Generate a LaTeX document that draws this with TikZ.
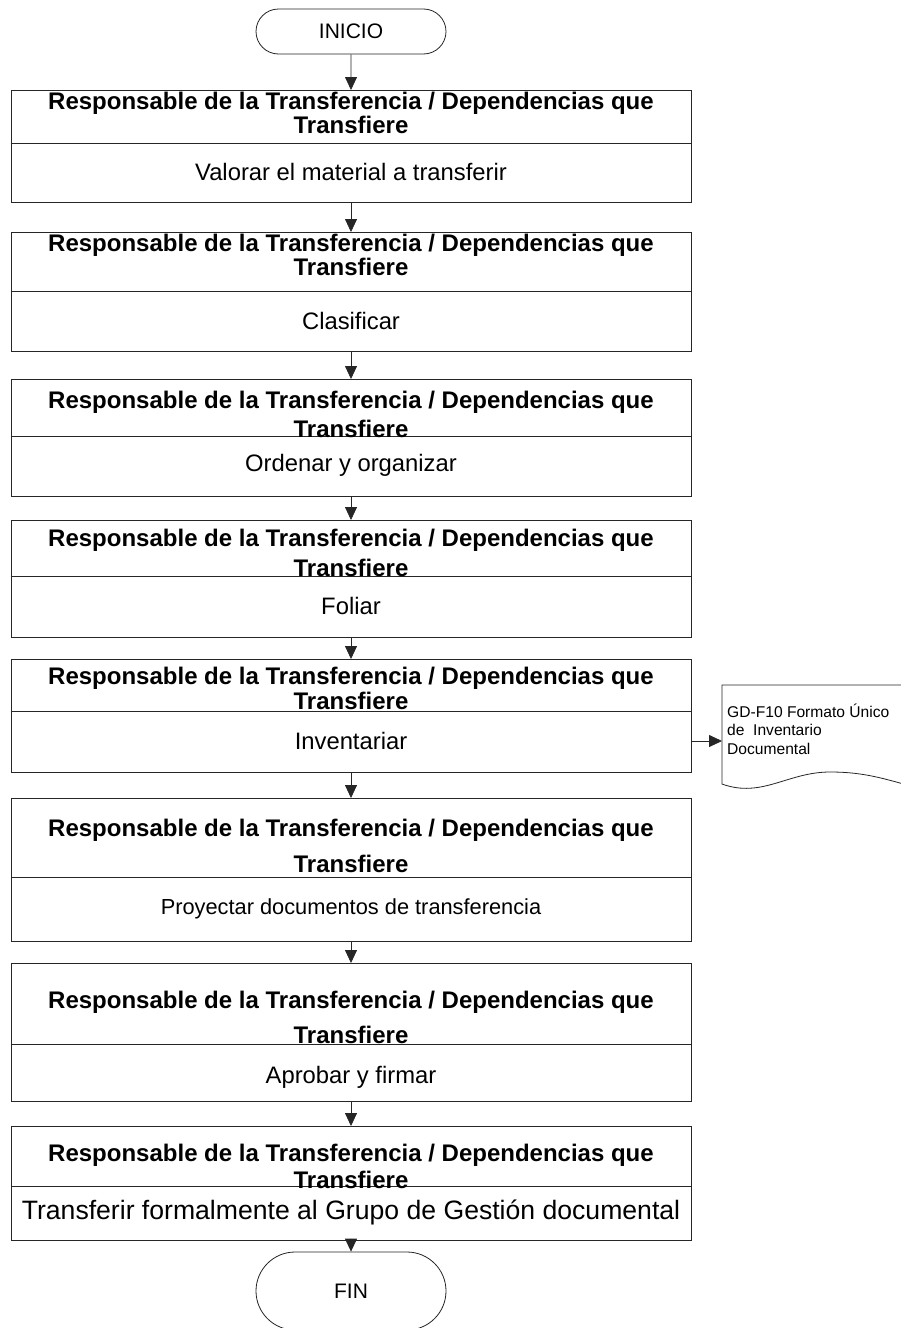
\documentclass[tikz,border=0pt]{standalone}
\usepackage{fontspec}
\setmainfont{Liberation Sans}
\usetikzlibrary{arrows.meta,shapes.misc}

\newcommand{\resptxt}{Responsable de la Transferencia / Dependencias que\\Transfiere}

\begin{document}
\begin{tikzpicture}[x=1pt, y=-1pt,
    stepbox/.style={draw=black!85, line width=0.9pt, minimum width=680pt, anchor=north, inner sep=0pt},
    divline/.style={draw=black!85, line width=0.9pt},
    endbox/.style={draw=black!85, line width=0.8pt, rounded rectangle, minimum width=190pt, inner sep=0pt, font=\fontsize{21}{25}\selectfont},
    headtxt/.style={align=center, inner sep=0pt, font=\bfseries\fontsize{24}{#1}\selectfont},
    bodytxt/.style={inner sep=0pt, font=\fontsize{#1}{26}\selectfont},
    bodytxt/.default=23.8,
    flow/.style={draw=black!85, line width=0.8pt, -{Triangle[width=12pt,length=13pt]}}]

    \path[use as bounding box, fill=white] (0,0) rectangle (900,1328);

    % --- Start ---
    \node[endbox, minimum height=45pt] (ini) at (351,31.5) {INICIO};

    % --- Step 1 ---
    \node[stepbox, minimum height=112pt] (b1) at (351,90) {};
    \draw[divline] (b1.west |- 0,143) -- (b1.east |- 0,143);
    \node[headtxt=24] (h1) at (351,113) {\resptxt};
    \node[bodytxt] (t1) at (351,172) {Valorar el material a transferir};

    % --- Step 2 ---
    \node[stepbox, minimum height=119pt] (b2) at (351,232) {};
    \draw[divline] (b2.west |- 0,291) -- (b2.east |- 0,291);
    \node[headtxt=24] (h2) at (351,255) {\resptxt};
    \node[bodytxt] (t2) at (351,321) {Clasificar};

    % --- Step 3 ---
    \node[stepbox, minimum height=117pt] (b3) at (351,379) {};
    \draw[divline] (b3.west |- 0,436) -- (b3.east |- 0,436);
    \node[headtxt=29] (h3) at (351,414) {\resptxt};
    \node[bodytxt] (t3) at (351,465) {Ordenar y organizar};

    % --- Step 4 ---
    \node[stepbox, minimum height=117pt] (b4) at (351,520) {};
    \draw[divline] (b4.west |- 0,576) -- (b4.east |- 0,576);
    \node[headtxt=30] (h4) at (351,553) {\resptxt};
    \node[bodytxt] (t4) at (351,606) {Foliar};

    % --- Step 5 ---
    \node[stepbox, minimum height=113pt] (b5) at (351,659) {};
    \draw[divline] (b5.west |- 0,711) -- (b5.east |- 0,711);
    \node[headtxt=25] (h5) at (351,688) {\resptxt};
    \node[bodytxt] (t5) at (351,741) {Inventariar};

    % --- Step 6 ---
    \node[stepbox, minimum height=143pt] (b6) at (351,798) {};
    \draw[divline] (b6.west |- 0,877) -- (b6.east |- 0,877);
    \node[headtxt=36] (h6) at (351,846) {\resptxt};
    \node[bodytxt=21.8] (t6) at (351,909) {Proyectar documentos de transferencia};

    % --- Step 7 ---
    \node[stepbox, minimum height=138pt] (b7) at (351,963) {};
    \draw[divline] (b7.west |- 0,1044) -- (b7.east |- 0,1044);
    \node[headtxt=35] (h7) at (351,1017.5) {\resptxt};
    \node[bodytxt] (t7) at (351,1077) {Aprobar y firmar};

    % --- Step 8 ---
    \node[stepbox, minimum height=114pt] (b8) at (351,1126) {};
    \draw[divline] (b8.west |- 0,1186) -- (b8.east |- 0,1186);
    \node[headtxt=27] (h8) at (351,1166) {\resptxt};
    \node[bodytxt=26.6] (t8) at (351,1212) {Transferir formalmente al Grupo de Gesti\'on documental};

    % --- End ---
    \node[endbox, minimum height=78pt] (fin) at (351,1291) {FIN};

    % --- Output document (cut by the right edge) ---
    \draw[divline, line width=0.8pt] (925,685) -- (722,685) -- (722,784)
        to[out=-20,in=180] (830,772) to[out=0,in=165] (925,790);
    \coordinate (docin) at (722,741);
    \node[anchor=west, align=left, inner sep=0pt, font=\fontsize{15.6}{18.5}\selectfont] (doc) at (727,729) {GD-F10 Formato Único\\de\ \ Inventario\\Documental};

    % --- Flow ---
    \draw[flow] (ini) -- (b1);
    \draw[flow] (b1) -- (b2);
    \draw[flow] (b2) -- (b3);
    \draw[flow] (b3) -- (b4);
    \draw[flow] (b4) -- (b5);
    \draw[flow] (b5) -- (b6);
    \draw[flow] (b6) -- (b7);
    \draw[flow] (b7) -- (b8);
    \draw[flow] (b8) -- (fin);
    \draw[flow] (t5 -| b5.east) -- (docin);
\end{tikzpicture}
\end{document}
